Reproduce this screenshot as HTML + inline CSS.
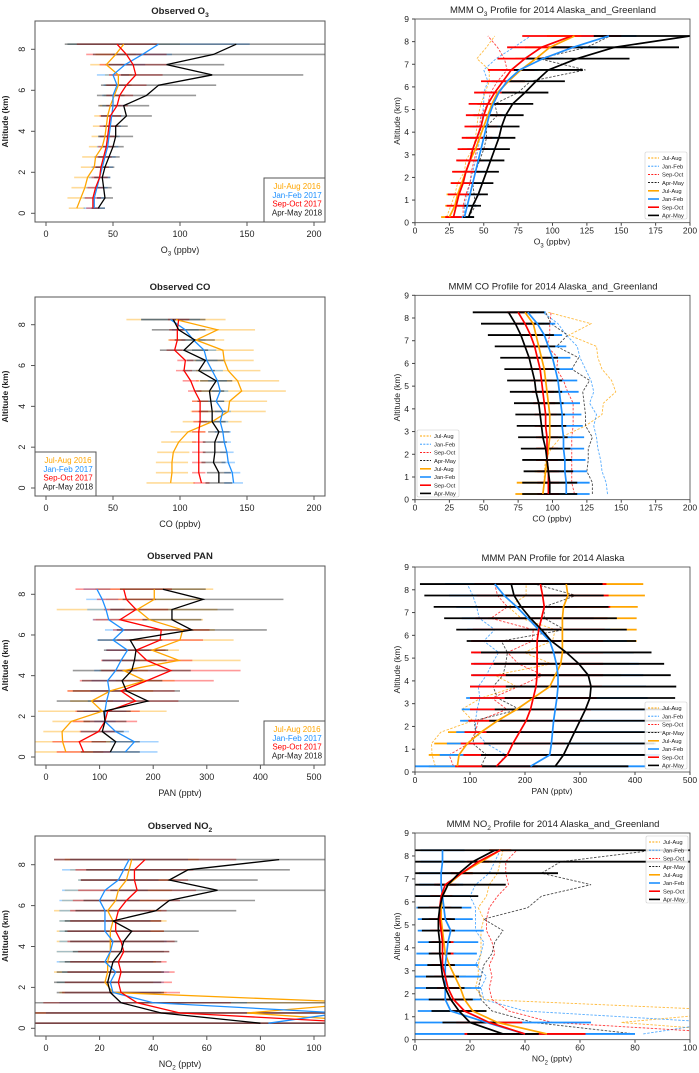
<!DOCTYPE html>
<html><head><meta charset="utf-8"><style>
html,body{margin:0;padding:0;background:#fff;}
svg{display:block;font-family:"Liberation Sans",sans-serif;}
</style></head><body>
<svg id="fig" width="699" height="1073" viewBox="0 0 699 1073" xmlns="http://www.w3.org/2000/svg"></svg>
<script>
// altitude levels (km)
const levels=[0.25,0.75,1.25,1.75,2.25,2.75,3.25,3.75,4.25,4.75,5.25,5.75,6.25,6.75,7.25,7.75,8.25];
const seriesNames=["Jul-Aug","Jan-Feb","Sep-Oct","Apr-May"];
const obsLegend=["Jul-Aug 2016","Jan-Feb 2017","Sep-Oct 2017","Apr-May 2018"];
// Observed O3
const obsO3Orange=[23,26,29,31,36,37,42,44,45,46,48,51,54,54,45,52,58];
const obsO3Blue=[36,36,38,40,42,44,46,47,48,49,50,50,53,50,59,72,84];
const obsO3Red=[35,35,37,40,41,43,45,46,47,48,53,55,60,67,65,60,53];
const obsO3Black=[39,44,43,42,44,47,50,52,52,60,58,75,84,124,90,125,142];
const obsO3OrangeErr=[6,10,10,10,10,10,10,10,10,10,8,8,10,10,12,15,42];
const obsO3BlueErr=[8,8,8,8,8,8,8,8,8,8,8,8,10,12,15,22,68];
const obsO3RedErr=[5,6,6,6,6,6,6,6,7,8,8,10,15,20,25,30,30];
const obsO3BlackErr=[5,6,6,6,7,8,8,13,9,19,19,37,43,68,43,90,128];
// Observed CO
const obsCOOrange=[93,94,94,95,99,106,124,136,137,146,143,136,133,132,112,128,97];
const obsCOBlue=[140,139,136,135,133,132,130,132,127,130,128,124,120,118,110,104,93];
const obsCORed=[116,114,114,114,114,114,115,115,115,111,108,103,104,96,98,98,99];
const obsCOBlack=[129,129,125,126,126,129,124,124,123,122,127,114,119,103,111,99,95];
const obsCOOrangeErr=[18,12,12,12,13,13,22,28,28,33,31,24,22,23,21,28,37];
const obsCOBlueErr=[7,6,5,5,5,6,6,6,6,6,7,8,8,9,9,10,22];
const obsCORedErr=[6,5,5,5,5,5,5,6,6,5,6,6,6,6,6,6,8];
const obsCOBlackErr=[10,9,9,9,9,8,10,10,10,11,12,12,14,18,15,20,24];
// Observed PAN
const obsPANOrange=[37,31,30,47,105,85,120,185,145,248,198,250,255,193,170,202,202];
const obsPANBlue=[148,165,130,110,110,113,118,115,130,140,152,125,145,117,112,105,95];
const obsPANRed=[70,62,98,110,115,167,140,188,233,188,168,213,215,138,168,150,145];
const obsPANBlack=[120,130,105,110,108,190,150,142,160,165,168,157,272,235,235,293,218];
const obsPANOrangeErr=[70,90,35,35,120,40,80,55,45,115,50,100,60,100,150,90,110];
const obsPANBlueErr=[60,45,25,20,40,35,35,30,40,35,40,30,35,30,35,30,25];
const obsPANRedErr=[50,50,35,60,60,80,100,125,130,85,55,80,90,50,60,55,90];
const obsPANBlackErr=[55,45,40,40,50,170,100,75,110,60,60,60,140,55,115,150,80];
// Observed NO2
const obsNO2Orange=[130,75,120,25,22,23,23,24,24,24,25,23,26,27,30,31,32];
const obsNO2Blue=[83,110,40,25,24,26,22,24,25,22,22,22,20,22,27,29,31];
const obsNO2Red=[120,50,34,28,27,28,27,29,28,26,26,27,30,34,33,33,37];
const obsNO2Black=[80,43,28,24,23,24,25,28,29,32,25,41,46,64,46,53,87];
const obsNO2OrangeErr=[200,110,90,20,18,20,18,20,20,20,20,20,20,20,18,22,25];
const obsNO2BlueErr=[200,110,35,18,20,20,18,20,20,17,17,17,15,16,15,23,22];
const obsNO2RedErr=[200,110,35,22,20,20,18,17,20,18,17,18,20,22,20,22,34];
const obsNO2BlackErr=[200,110,100,20,20,20,18,18,20,25,18,30,32,40,33,38,84];
// Model O3
const modO3Orange=[25,29,31,34,37,40,44,47,50,53,56,60,68,77,88,98,116];
const modO3Blue=[36,38,40,42,44,46,48,50,52,54,57,61,67,76,93,115,141];
const modO3Red=[28,30,32,35,37,40,42,45,48,50,53,58,64,70,80,92,114];
const modO3Black=[39,42,46,49,52,55,58,61,63,66,71,80,88,97,118,145,200];
const modO3OrangeErr=[6,7,8,8,9,9,10,10,10,11,11,12,12,13,15,18,20];
const modO3BlueErr=[6,7,8,8,9,9,10,10,10,11,11,12,12,13,15,18,20];
const modO3RedErr=[6,7,8,9,10,10,11,11,12,13,14,15,16,17,20,25,36];
const modO3BlackErr=[4,6,7,8,9,10,11,12,13,13,15,17,21,25,38,47,70];
// Model CO
const modCOOrange=[93,94,95,96,97,98,98,98,97,96,95,94,92,90,88,86,80];
const modCOBlue=[110,110,109,109,108,108,107,107,106,105,104,102,100,97,94,89,82];
const modCORed=[97,97,97,96,96,96,95,95,94,93,92,91,89,87,84,80,75];
const modCOBlack=[98,98,97,96,95,93,92,91,90,88,87,85,83,80,77,73,68];
const modCOOrangeErr=[20,20,8,8,8,8,8,8,8,8,8,8,8,8,8,8,8];
const modCOBlueErr=[17,17,16,15,15,15,15,14,14,14,14,13,13,13,13,13,13];
const modCORedErr=[8,8,8,8,8,8,8,8,8,8,8,8,8,8,8,8,8];
const modCOBlackErr=[20,20,18,18,18,18,18,18,18,19,20,20,21,22,24,25,26];
// Model PAN
const modPANOrange=[77,80,95,120,150,185,215,245,255,265,268,268,268,268,270,278,275];
const modPANBlue=[210,245,248,250,252,255,258,260,260,257,252,245,225,205,185,162,145];
const modPANRed=[148,168,178,190,202,210,215,220,222,222,222,222,225,230,235,232,228];
const modPANBlack=[255,270,280,290,300,310,318,320,315,298,275,248,230,210,193,180,175];
const modPANOrangeErr=[52,55,60,60,62,70,100,110,120,125,130,135,135,135,135,140,140];
const modPANBlueErr=[210,200,190,175,170,170,165,160,155,150,145,140,130,120,110,100,90];
const modPANRedErr=[75,80,95,100,105,110,115,120,120,120,120,120,120,120,120,120,120];
const modPANBlackErr=[133,150,155,160,165,165,155,155,150,155,155,154,155,157,159,163,166];
// Model NO2
const modNO2Orange=[48,30,21,18,16.5,14.5,12.5,11,10.5,10,9.5,9.5,10,12,17,24,31];
const modNO2Blue=[40,26,13,11,11,11,11,11.5,12,13,11,10.5,10,9.5,9.5,10,10];
const modNO2Red=[40,27,18,14,12,11,10,10,10,9.5,9,9,9.5,11,17,23,31];
const modNO2Black=[32,20,16,13,11,10,9.5,9,9,8.5,8.5,9,10,12,16,21,29];
const modNO2OrangeErr=[13,5,5,4,4,4,4,4,4,4,4,4,4,4,4,4,4];
const modNO2BlueErr=[40,38,12,13,13,13,12,11,11,12,10,10,10,8,8,8,8];
const modNO2RedErr=[22,12,5,4,4,4,4,4,4,4,4,4,4,4,4,4,4];
const modNO2BlackErr=[13,10,10,8,7,6,5,4,4,6,6,8,13,21,36,85,90];

const COLORS=["#FFA500","#1E90FF","#FF0000","#000000"];
const NS="http://www.w3.org/2000/svg";
const svg=document.getElementById("fig");
let clipId=0;
function el(tag,attrs,parent){const e=document.createElementNS(NS,tag);for(const k in attrs)e.setAttribute(k,attrs[k]);(parent||svg).appendChild(e);return e;}
function txt(x,y,s,size,anchor,parent,extra){const t=el("text",Object.assign({x:x,y:y,"font-size":size,"text-anchor":anchor||"middle",fill:"#222"},extra||{}),parent);t.textContent=s;return t;}
function subText(x,y,a,sub,b,size,anchor,parent,bold){const t=el("text",{x:x,y:y,"font-size":size,"text-anchor":anchor||"middle",fill:"#222","font-weight":bold?"bold":"normal"},parent);
 const t1=el("tspan",{},t);t1.textContent=a;if(sub){const t2=el("tspan",{dy:size*0.3,"font-size":size*0.7},t);t2.textContent=sub;const t3=el("tspan",{dy:-size*0.3},t);t3.textContent=b;}else{const t3=el("tspan",{},t);t3.textContent=b;}return t;}

function leftPanel(o){
 const g=el("g",{});
 
 
 const L=35,R=325;
 const xs=v=>46+v/o.xmax*268;
 const ys=v=>o.y0-v*(o.y0-o.y8)/8;
 const cid="c"+(clipId++);
 const cp=el("clipPath",{id:cid},g);el("rect",{x:L,y:o.top,width:R-L,height:o.bot-o.top},cp);
 const pg=el("g",{"clip-path":"url(#"+cid+")"},g);
 for(let s=0;s<4;s++){
  for(let i=0;i<levels.length;i++){
   const b=el("line",{x1:xs(o.vals[s][i]-o.errs[s][i]),x2:xs(o.vals[s][i]+o.errs[s][i]),y1:ys(levels[i]),y2:ys(levels[i]),stroke:COLORS[s],"stroke-width":1.6,"stroke-opacity":0.4},pg);
   
   
  }
 }
 for(let s=0;s<4;s++){
  const p=el("polyline",{points:o.vals[s].map((v,i)=>xs(v)+","+ys(levels[i])).join(" "),fill:"none",stroke:COLORS[s],"stroke-width":1.3},pg);
  
  
 }
 el("rect",{x:L,y:o.top,width:R-L,height:o.bot-o.top,fill:"none",stroke:"#555","stroke-width":1},g);
 o.xticks.forEach(t=>{const x=xs(t);el("line",{x1:x,x2:x,y1:o.bot,y2:o.bot+4,stroke:"#555"},g);const l=txt(x,o.bot+15,String(t),9,"middle",g);});
 [0,2,4,6,8].forEach(t=>{const y=ys(t);el("line",{x1:L,x2:L-4,y1:y,y2:y,stroke:"#555"},g);const l=txt(0,0,String(t),9,"middle",g,{transform:"translate(25,"+y+") rotate(-90)"});});
 const yt=txt(0,0,"Altitude (km)",8.5,"middle",g,{transform:"translate(8,"+((o.top+o.bot)/2)+") rotate(-90)","font-weight":"bold"});
 
 const xt=subText(180,o.bot+31,o.xl[0],o.xl[1],o.xl[2],9,"middle",g);
 
 const tt=subText(180,o.top-7,o.title[0],o.title[1],o.title[2],9.5,"middle",g,true);
 
 const lg=el("g",{},g);
 
 el("rect",{x:o.lx,y:o.bot-44,width:61,height:44,fill:"#fff",stroke:"#555"},lg);
 for(let s=0;s<4;s++){const t=txt(o.lx+33,o.bot-33+s*8.8,obsLegend[s],8,"middle",lg,{fill:s==3?"#222":COLORS[s]});}
}

function rightPanel(o){
 const g=el("g",{});
 
 
 const L=415,R=690;
 const xs=v=>L+v/o.xmax*(R-L);
 const ys=v=>o.y0-v*(o.y0-o.y9)/9;
 const cid="c"+(clipId++);
 const cp=el("clipPath",{id:cid},g);el("rect",{x:L,y:o.y9,width:R-L,height:o.y0-o.y9},cp);
 const pg=el("g",{"clip-path":"url(#"+cid+")"},g);
 for(let s=0;s<4;s++){
  const p=el("polyline",{points:o.obs[s].map((v,i)=>xs(v)+","+ys(levels[i])).join(" "),fill:"none",stroke:COLORS[s],"stroke-width":0.9,"stroke-dasharray":"2.5,1.5","stroke-opacity":s==3?0.7:0.75},pg);
  
  
 }
 for(let s=0;s<4;s++){
  for(let i=0;i<levels.length;i++){
   const b=el("line",{x1:xs(o.vals[s][i]-o.errs[s][i]),x2:xs(o.vals[s][i]+o.errs[s][i]),y1:ys(levels[i]),y2:ys(levels[i]),stroke:COLORS[s],"stroke-width":1.8},pg);
   
   
  }
 }
 for(let s=0;s<4;s++){
  const p=el("polyline",{points:o.vals[s].map((v,i)=>xs(v)+","+ys(levels[i])).join(" "),fill:"none",stroke:COLORS[s],"stroke-width":1.7},pg);
  
  
 }
 el("rect",{x:L,y:o.y9,width:R-L,height:o.y0-o.y9,fill:"none",stroke:"#444","stroke-width":0.8},g);
 o.xticks.forEach(t=>{const x=xs(t);el("line",{x1:x,x2:x,y1:o.y0,y2:o.y0+3,stroke:"#444"},g);const l=txt(x,o.y0+11,String(t),8.5,"middle",g);});
 for(let t=0;t<=9;t++){const y=ys(t);el("line",{x1:L,x2:L-3,y1:y,y2:y,stroke:"#444"},g);const l=txt(409,y+3,String(t),8.5,"end",g);}
 const yt=txt(0,0,"Altitude (km)",8.5,"middle",g,{transform:"translate(400,"+((o.y0+o.y9)/2)+") rotate(-90)"});
 
 const xt=subText(552,o.y0+22,o.xl[0],o.xl[1],o.xl[2],8.5,"middle",g);
 
 const tt=subText(553,o.y9-6,o.title[0],o.title[1],o.title[2],9.5,"middle",g);
 
 const lg=el("g",{},g);
 
 el("rect",{x:o.lx,y:o.ly,width:42,height:67,fill:"#fff","fill-opacity":0.85,stroke:"#ccc","stroke-width":0.6,rx:1.5},lg);
 for(let k=0;k<8;k++){const s=k%4;const y=o.ly+6+k*8.2;
  el("line",{x1:o.lx+3,x2:o.lx+14,y1:y,y2:y,stroke:COLORS[s],"stroke-width":k<4?0.9:1.6,"stroke-dasharray":k<4?"2,1.3":"none"},lg);
  const t=txt(o.lx+17,y+2.2,seriesNames[s],5.8,"start",lg);}
}

leftPanel({name:"observed-o3-panel",top:21,bot:222,y0:213.3,y8:49.3,xmax:200,xticks:[0,50,100,150,200],xl:["O","3"," (ppbv)"],title:["Observed O","3",""],lx:264,
 vals:[obsO3Orange,obsO3Blue,obsO3Red,obsO3Black],errs:[obsO3OrangeErr,obsO3BlueErr,obsO3RedErr,obsO3BlackErr]});
leftPanel({name:"observed-co-panel",top:297,bot:496,y0:488,y8:324.7,xmax:200,xticks:[0,50,100,150,200],xl:["CO (ppbv)","",""],title:["Observed CO","",""],lx:35,
 vals:[obsCOOrange,obsCOBlue,obsCORed,obsCOBlack],errs:[obsCOOrangeErr,obsCOBlueErr,obsCORedErr,obsCOBlackErr]});
leftPanel({name:"observed-pan-panel",top:566,bot:765,y0:757,y8:594.3,xmax:500,xticks:[0,100,200,300,400,500],xl:["PAN (pptv)","",""],title:["Observed PAN","",""],lx:264,
 vals:[obsPANOrange,obsPANBlue,obsPANRed,obsPANBlack],errs:[obsPANOrangeErr,obsPANBlueErr,obsPANRedErr,obsPANBlackErr]});
leftPanel({name:"observed-no2-panel",top:836,bot:1036,y0:1028.3,y8:864.7,xmax:100,xticks:[0,20,40,60,80,100],xl:["NO","2"," (pptv)"],title:["Observed NO","2",""],lx:-999,
 vals:[obsNO2Orange,obsNO2Blue,obsNO2Red,obsNO2Black],errs:[obsNO2OrangeErr,obsNO2BlueErr,obsNO2RedErr,obsNO2BlackErr]});

rightPanel({name:"model-o3-panel",y9:19,y0:222.7,xmax:200,xticks:[0,25,50,75,100,125,150,175,200],xl:["O","3"," (ppbv)"],title:["MMM O","3"," Profile for 2014 Alaska_and_Greenland"],lx:645,ly:152,
 obs:[obsO3Orange,obsO3Blue,obsO3Red,obsO3Black],vals:[modO3Orange,modO3Blue,modO3Red,modO3Black],errs:[modO3OrangeErr,modO3BlueErr,modO3RedErr,modO3BlackErr]});
rightPanel({name:"model-co-panel",y9:295.3,y0:499.7,xmax:200,xticks:[0,25,50,75,100,125,150,175,200],xl:["CO (ppbv)","",""],title:["MMM CO Profile for 2014 Alaska_and_Greenland","",""],lx:417,ly:430,
 obs:[obsCOOrange,obsCOBlue,obsCORed,obsCOBlack],vals:[modCOOrange,modCOBlue,modCORed,modCOBlack],errs:[modCOOrangeErr,modCOBlueErr,modCORedErr,modCOBlackErr]});
rightPanel({name:"model-pan-panel",y9:567,y0:772,xmax:500,xticks:[0,100,200,300,400,500],xl:["PAN (pptv)","",""],title:["MMM PAN Profile for 2014 Alaska","",""],lx:645,ly:702,
 obs:[obsPANOrange,obsPANBlue,obsPANRed,obsPANBlack],vals:[modPANOrange,modPANBlue,modPANRed,modPANBlack],errs:[modPANOrangeErr,modPANBlueErr,modPANRedErr,modPANBlackErr]});
rightPanel({name:"model-no2-panel",y9:833,y0:1039.7,xmax:100,xticks:[0,20,40,60,80,100],xl:["NO","2","  (pptv)"],title:["MMM NO","2","  Profile for 2014 Alaska_and_Greenland"],lx:646,ly:836,
 obs:[obsNO2Orange,obsNO2Blue,obsNO2Red,obsNO2Black],vals:[modNO2Orange,modNO2Blue,modNO2Red,modNO2Black],errs:[modNO2OrangeErr,modNO2BlueErr,modNO2RedErr,modNO2BlackErr]});
</script>
</body></html>
